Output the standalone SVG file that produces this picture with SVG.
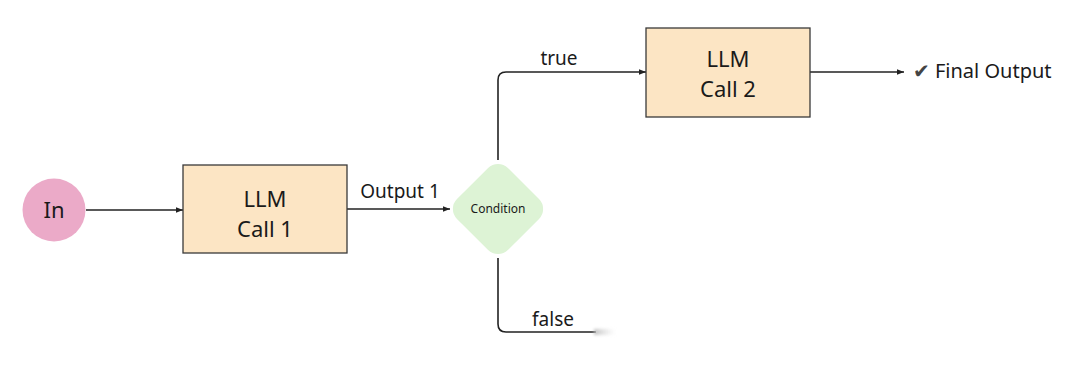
<svg xmlns="http://www.w3.org/2000/svg" width="1080" height="373" viewBox="0 0 1080 373">
<defs>
<marker id="arr" viewBox="0 0 10 10" refX="10" refY="5" markerWidth="7" markerHeight="7" orient="auto" markerUnits="userSpaceOnUse">
<path d="M0,1 L10,5 L0,9 z" fill="#222"/>
</marker>
<linearGradient id="fade" x1="0" y1="0" x2="1" y2="0">
<stop offset="0" stop-color="#bbb" stop-opacity="0.9"/>
<stop offset="1" stop-color="#ddd" stop-opacity="0"/>
</linearGradient>
<filter id="blur" x="-20%" y="-100%" width="140%" height="300%"><feGaussianBlur stdDeviation="1.5"/></filter>
</defs>
<style>
.box{fill:#FCE5C4;stroke:#3a3a3a;stroke-width:1.3}
.t{font-family:"Noto Sans","DejaVu Sans",sans-serif;fill:#1a1a1a}
.big{font-size:22px}
.lbl{font-size:19px}
.edge{fill:none;stroke:#222;stroke-width:1.6}
</style>
<rect width="1080" height="373" fill="#ffffff"/>
<g id="connectors">
<path class="edge" d="M86,210 L183,210" marker-end="url(#arr)"/>
<path class="edge" d="M347,209 L450,209" marker-end="url(#arr)"/>
<path class="edge" d="M498,160 L498,80 Q498,72 506,72 L646,72" marker-end="url(#arr)"/>
<path class="edge" d="M810,72 L904,72" marker-end="url(#arr)"/>
<path class="edge" d="M498,258 L498,324 Q498,332 506,332 L596,332"/>
<rect x="594" y="329" width="22" height="6" fill="url(#fade)" filter="url(#blur)"/>
<text class="t lbl" x="400" y="198" text-anchor="middle">Output 1</text>
<text class="t lbl" x="559" y="65" text-anchor="middle">true</text>
<text class="t lbl" x="553" y="326" text-anchor="middle">false</text>
</g>
<g id="in">
<circle cx="54" cy="210" r="31.5" fill="#EBAAC8"/>
<text class="t big" x="54" y="218" text-anchor="middle">In</text>
</g>
<g id="llm1">
<rect class="box" x="183" y="165" width="164" height="88"/>
<text class="t big" x="265" y="207" text-anchor="middle">LLM</text>
<text class="t big" x="265" y="237" text-anchor="middle">Call 1</text>
</g>
<g id="condition">
<rect x="-36" y="-36" width="72" height="72" rx="14" fill="#DDF3D5" transform="translate(498,209) rotate(45)"/>
<text class="t" x="498" y="213" text-anchor="middle" font-size="12">Condition</text>
</g>
<g id="llm2">
<rect class="box" x="646" y="28" width="164" height="89"/>
<text class="t big" x="728" y="67" text-anchor="middle">LLM</text>
<text class="t big" x="728" y="97" text-anchor="middle">Call 2</text>
</g>
<g id="final">
<text class="t" x="913" y="78" font-size="20"><tspan fill="#444" font-family="DejaVu Sans, sans-serif">✔</tspan> Final Output</text>
</g>
</svg>
